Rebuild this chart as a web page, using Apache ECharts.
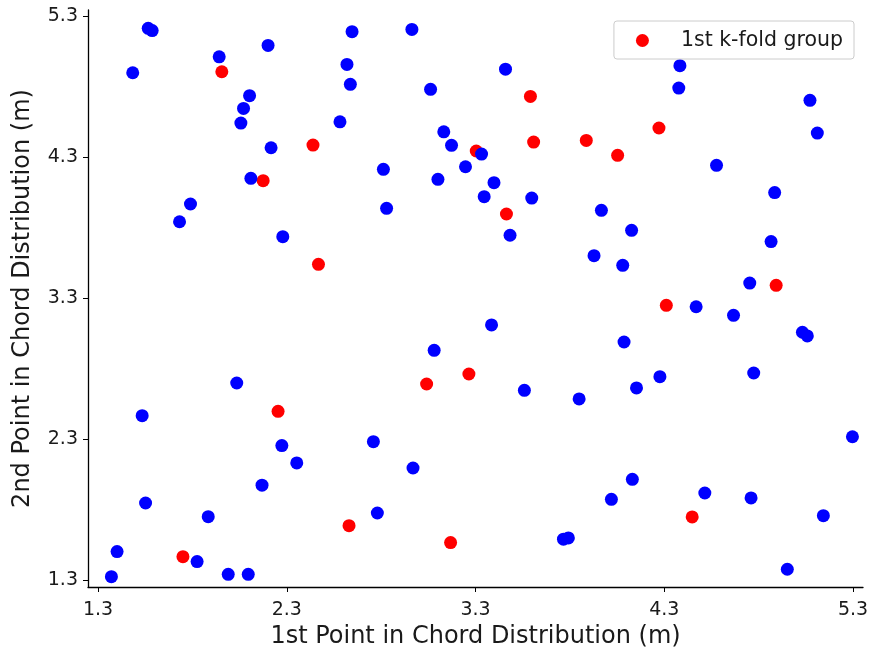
<!DOCTYPE html>
<html>
<head>
<meta charset="utf-8">
<script src="https://cdn.jsdelivr.net/npm/echarts@6/dist/echarts.min.js"></script>
<style>html,body{margin:0;padding:0;background:#fff}#c{width:872px;height:654px}</style>
</head>
<body>
<div id="c"></div>
<script>
const tickValues = [1.3, 2.3, 3.3, 4.3, 5.3];
const foldName = '1st k-fold group';
const foldX = [1.956, 2.175, 2.468, 2.439, 3.591, 3.304, 3.464, 3.608, 3.887, 4.053, 4.272, 4.893, 4.311, 3.265, 3.041, 4.448, 3.168, 2.254, 2.630, 1.750];
const foldY = [4.905, 4.132, 3.539, 4.385, 4.730, 4.343, 3.896, 4.406, 4.418, 4.312, 4.506, 3.390, 3.248, 2.761, 2.690, 1.747, 1.565, 2.496, 1.685, 1.465];
const restX = [1.484, 1.566, 1.587, 1.942, 2.201, 2.103, 2.071, 2.057, 2.217, 2.110, 1.790, 1.732, 2.279, 2.646, 2.619, 2.637, 2.582, 2.963, 3.062, 2.812,
  2.829, 3.132, 3.101, 3.459, 3.173, 3.332, 3.247, 3.398, 3.346, 3.598, 3.483, 4.383, 4.377, 5.072, 5.111, 4.577, 4.885, 3.967, 4.127, 4.866,
  3.928, 4.080, 4.753, 4.469, 4.667, 5.032, 5.058, 3.385, 3.081, 3.559, 3.849, 4.087, 4.277, 4.153, 4.774, 5.297, 4.131, 4.020, 4.515, 4.760,
  5.143, 3.766, 3.792, 4.952, 2.035, 1.534, 2.274, 2.353, 2.759, 2.969, 2.169, 1.552, 1.884, 2.780, 1.401, 1.825, 1.371, 1.990, 2.096];
const restY = [4.898, 5.213, 5.197, 5.011, 5.092, 4.735, 4.645, 4.541, 4.366, 4.149, 3.967, 3.841, 3.735, 5.189, 4.957, 4.816, 4.550, 5.205, 4.780, 4.213,
  3.936, 4.479, 4.142, 4.923, 4.383, 4.321, 4.231, 4.118, 4.019, 4.009, 3.745, 4.948, 4.789, 4.702, 4.470, 4.241, 4.048, 3.922, 3.780, 3.700,
  3.600, 3.532, 3.406, 3.238, 3.177, 3.057, 3.031, 3.109, 2.929, 2.645, 2.584, 2.988, 2.742, 2.662, 2.768, 2.316, 2.014, 1.872, 1.917, 1.882,
  1.756, 1.589, 1.598, 1.376, 2.697, 2.465, 2.253, 2.130, 2.281, 2.094, 1.972, 1.846, 1.749, 1.775, 1.501, 1.430, 1.323, 1.340, 1.340];

const zip = (a, b) => a.map((v, i) => [v, b[i]]);
const font = 'DejaVu Sans';
function axis(name, isX) {
  return {
    type: 'value', min: isX ? 1.247 : 1.25, max: isX ? 5.353 : 5.343,
    name: name, nameLocation: 'middle', nameGap: isX ? 37 : 53,
    nameTextStyle: { fontFamily: font, fontSize: 24, color: '#1a1a1a' },
    splitLine: { show: false },
    axisLine: { show: true, onZero: false, lineStyle: { color: '#000', width: 1.3 } },
    axisTick: { show: true, inside: false, length: 5, customValues: tickValues, lineStyle: { color: '#000' } },
    axisLabel: { customValues: tickValues, fontFamily: font, fontSize: 19, color: '#1a1a1a', margin: isX ? 14 : 10,
      formatter: v => v.toFixed(1) }
  };
}
const chart = echarts.init(document.getElementById('c'), null, { renderer: 'canvas' });
chart.setOption({
  animation: false,
  grid: { left: 88, right: 9, top: 10, bottom: 67, containLabel: false, outerBoundsMode: 'none' },
  xAxis: axis('1st Point in Chord Distribution (m)', true),
  yAxis: axis('2nd Point in Chord Distribution (m)', false),
  legend: {
    data: [foldName], right: 18, top: 21, orient: 'vertical',
    icon: 'circle', itemWidth: 13, itemHeight: 13, itemGap: 0,
    padding: [9, 11, 8, 22],
    borderColor: '#cccccc', borderWidth: 1, borderRadius: 3, backgroundColor: '#fff',
    textStyle: { fontFamily: font, fontSize: 20.5, color: '#1a1a1a', padding: [0, 0, 0, 27] }
  },
  series: [
    { name: foldName, type: 'scatter', symbolSize: 13, data: zip(foldX, foldY), itemStyle: { color: '#ff0000', opacity: 1 } },
    { name: 'rest', type: 'scatter', symbolSize: 13, data: zip(restX, restY), itemStyle: { color: '#0000ff', opacity: 1 } }
  ]
});
</script>
</body>
</html>
